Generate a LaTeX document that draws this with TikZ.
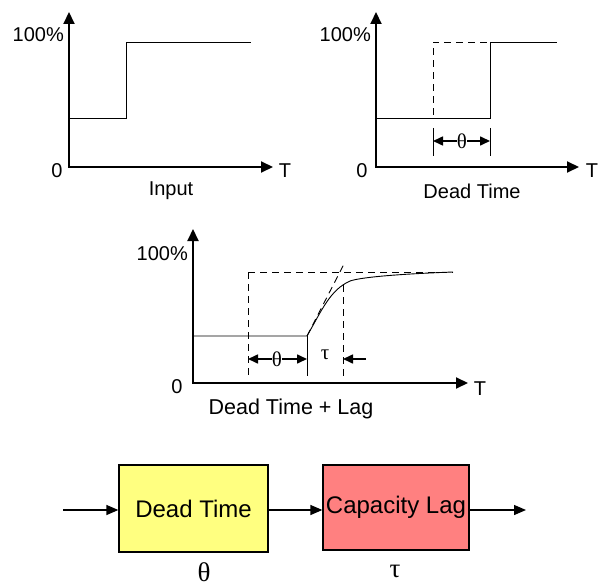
\documentclass[tikz,border=0pt]{standalone}
\usepackage{fontspec}
\setmainfont{Liberation Sans}
\newfontfamily\grk{Liberation Serif}
\usetikzlibrary{arrows.meta}
\begin{document}
\begin{tikzpicture}[x=1pt,y=-1pt,
  axis/.style={line width=2pt,-{Triangle[length=12pt,width=11pt]}},
  sig/.style={line width=0.9pt},
  dsh/.style={line width=0.9pt,dash pattern=on 7pt off 5pt},
  dimarr/.style={line width=1.6pt,-{Triangle[length=10pt,width=9pt]}},
  flow/.style={line width=1.3pt,-{Triangle[length=12pt,width=10pt]}},
  lbl/.style={font=\fontsize{20}{23}\selectfont,inner sep=0pt},
  glbl/.style={font=\grk\fontsize{21}{24}\selectfont,inner sep=0pt},
  bglbl/.style={font=\grk\fontsize{27}{29}\selectfont,inner sep=0pt},
  blk/.style={draw,line width=1.3pt,font=\fontsize{24}{27}\selectfont,inner sep=0pt}
]
\useasboundingbox (0,0) rectangle (602,588);

% ---------- Panel 1: Input ----------
\coordinate (o1) at (69,167);
\coordinate (y1) at (69,12);
\coordinate (x1) at (273,167);
\draw[axis] (o1) -- (y1);
\draw[axis] ([xshift=-1pt]o1) -- (x1);
\draw[sig] (69,118) -- (126,118) -- (126,42) -- (251,42);
\node[lbl,anchor=east] (p1) at (64,35) {100\%};
\node[lbl] (z1) at (57,171) {0};
\node[lbl] (t1) at (285,171) {T};
\node[lbl] (n1) at (171,191) {Input};

% ---------- Panel 2: Dead Time ----------
\coordinate (o2) at (376,167);
\coordinate (y2) at (376,12);
\coordinate (x2) at (579,167);
\draw[axis] (o2) -- (y2);
\draw[axis] ([xshift=-1pt]o2) -- (x2);
\draw[dsh] (376,118) -- (433,118) -- (433,42) -- (490,42);
\draw[sig] (376,118) -- (490,118) -- (490,42) -- (557,42);
\draw[sig] (433,128) -- (433,156);
\draw[sig] (490,128) -- (490,156);
\node[glbl] (th2) at (462,141) {θ};
\coordinate (d2l) at (433,141);
\coordinate (d2r) at (490,141);
\draw[dimarr] (th2.west) -- (d2l);
\draw[dimarr] (th2.east) -- (d2r);
\node[lbl,anchor=east] (p2) at (371,35) {100\%};
\node[lbl] (z2) at (362,171) {0};
\node[lbl] (t2) at (592,171) {T};
\node[lbl] (n2) at (472,191) {Dead Time};

% ---------- Panel 3: Dead Time + Lag ----------
\coordinate (o3) at (193,383);
\coordinate (y3) at (193,229);
\coordinate (x3) at (468,383);
\draw[axis] (o3) -- (y3);
\draw[axis] ([xshift=-1pt]o3) -- (x3);
\draw[dsh] (248,272) -- (453,272);
\draw[dsh] (248,272) -- (248,376);
\draw[dsh] (343,285) -- (343,376);
\draw[dsh] (307,336) -- (344,264);
\draw[sig] (193,336) -- (307,336)
  .. controls (322,310) and (330,290) .. (350,281)
  .. controls (362,277) and (400,274) .. (453,272);
\draw[sig] (307,336) -- (307,376);
\node[glbl] (th3) at (277,359) {θ};
\coordinate (d3l) at (248,359);
\coordinate (d3r) at (307,359);
\draw[dimarr] (th3.west) -- (d3l);
\draw[dimarr] (th3.east) -- (d3r);
\node[glbl] (ta3) at (325,355) {τ};
\coordinate (d3s) at (366,359);
\coordinate (d3t) at (343,359);
\draw[dimarr] (d3s) -- (d3t);
\node[lbl,anchor=east] (p3) at (188,254) {100\%};
\node[lbl] (z3) at (177,387) {0};
\node[lbl] (t3) at (480,389) {T};
\node[lbl,font=\fontsize{21.5}{24}\selectfont] (n3) at (291,409) {Dead Time + Lag};

% ---------- Block diagram ----------
\node[blk,fill={rgb,255:red,255;green,255;blue,128},minimum width=149pt,minimum height=87pt] (dt) at (193.5,508.5) {Dead Time};
\node[blk,fill={rgb,255:red,255;green,128;blue,128},minimum width=146pt,minimum height=85pt] (cl) at (396,507.5) {Capacity Lag};
\coordinate (in) at (63,510);
\coordinate (out) at (526,510);
\draw[flow] (in) -- (in -| dt.west);
\draw[flow] (dt.east |- 0,510) -- (cl.west |- 0,510);
\draw[flow] (cl.east |- 0,510) -- (out);
\node[bglbl] (thb) at (204,572) {θ};
\node[bglbl] (tab) at (395,571) {τ};
\end{tikzpicture}
\end{document}
